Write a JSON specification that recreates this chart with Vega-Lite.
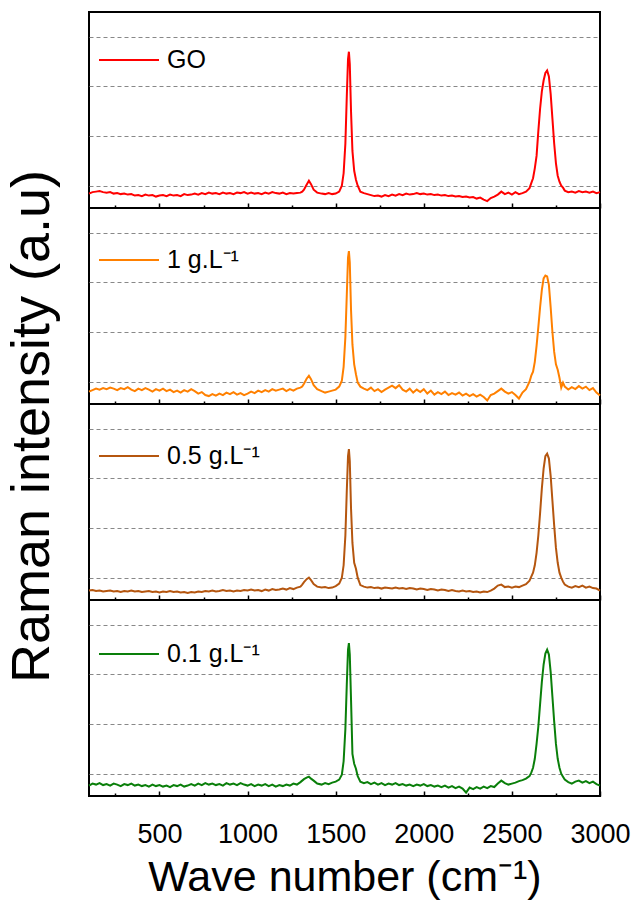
{
"$schema":"https://vega.github.io/schema/vega-lite/v6.json",
"padding":{"left":3,"top":11,"right":5,"bottom":2},
"config":{"font":"Liberation Sans","view":{"stroke":"black","strokeWidth":2},"legend":{"labelFont":"Liberation Sans"}},
"data":{"values":[
{"w":100,"a":-0.16,"b":-0.2,"c":-0.26,"d":-0.24},
{"w":120,"a":-0.13,"b":-0.17,"c":-0.25,"d":-0.2},
{"w":140,"a":-0.12,"b":-0.14,"c":-0.27,"d":-0.22},
{"w":160,"a":-0.11,"b":-0.16,"c":-0.26,"d":-0.19},
{"w":180,"a":-0.13,"b":-0.13,"c":-0.28,"d":-0.23},
{"w":200,"a":-0.14,"b":-0.15,"c":-0.27,"d":-0.21},
{"w":220,"a":-0.13,"b":-0.12,"c":-0.26,"d":-0.24},
{"w":240,"a":-0.16,"b":-0.14,"c":-0.28,"d":-0.2},
{"w":260,"a":-0.15,"b":-0.17,"c":-0.27,"d":-0.22},
{"w":280,"a":-0.17,"b":-0.13,"c":-0.29,"d":-0.25},
{"w":300,"a":-0.16,"b":-0.15,"c":-0.27,"d":-0.21},
{"w":320,"a":-0.18,"b":-0.11,"c":-0.28,"d":-0.23},
{"w":340,"a":-0.17,"b":-0.16,"c":-0.26,"d":-0.2},
{"w":360,"a":-0.2,"b":-0.19,"c":-0.28,"d":-0.24},
{"w":380,"a":-0.19,"b":-0.14,"c":-0.27,"d":-0.22},
{"w":400,"a":-0.21,"b":-0.17,"c":-0.29,"d":-0.25},
{"w":420,"a":-0.18,"b":-0.13,"c":-0.28,"d":-0.23},
{"w":440,"a":-0.2,"b":-0.16,"c":-0.27,"d":-0.26},
{"w":460,"a":-0.19,"b":-0.2,"c":-0.29,"d":-0.22},
{"w":480,"a":-0.22,"b":-0.15,"c":-0.28,"d":-0.25},
{"w":500,"a":-0.2,"b":-0.18,"c":-0.3,"d":-0.23},
{"w":520,"a":-0.19,"b":-0.14,"c":-0.28,"d":-0.26},
{"w":540,"a":-0.21,"b":-0.19,"c":-0.29,"d":-0.24},
{"w":560,"a":-0.18,"b":-0.16,"c":-0.27,"d":-0.27},
{"w":580,"a":-0.2,"b":-0.21,"c":-0.29,"d":-0.23},
{"w":600,"a":-0.19,"b":-0.18,"c":-0.28,"d":-0.25},
{"w":620,"a":-0.21,"b":-0.22,"c":-0.3,"d":-0.22},
{"w":640,"a":-0.17,"b":-0.17,"c":-0.29,"d":-0.26},
{"w":660,"a":-0.19,"b":-0.2,"c":-0.31,"d":-0.24},
{"w":680,"a":-0.18,"b":-0.15,"c":-0.29,"d":-0.21},
{"w":700,"a":-0.16,"b":-0.19,"c":-0.3,"d":-0.24},
{"w":720,"a":-0.18,"b":-0.24,"c":-0.28,"d":-0.2},
{"w":740,"a":-0.15,"b":-0.21,"c":-0.29,"d":-0.23},
{"w":760,"a":-0.17,"b":-0.27,"c":-0.27,"d":-0.19},
{"w":780,"a":-0.14,"b":-0.29,"c":-0.28,"d":-0.22},
{"w":800,"a":-0.16,"b":-0.25,"c":-0.26,"d":-0.2},
{"w":820,"a":-0.15,"b":-0.28,"c":-0.28,"d":-0.23},
{"w":840,"a":-0.17,"b":-0.24,"c":-0.27,"d":-0.21},
{"w":860,"a":-0.14,"b":-0.27,"c":-0.25,"d":-0.24},
{"w":880,"a":-0.16,"b":-0.22,"c":-0.27,"d":-0.19},
{"w":900,"a":-0.15,"b":-0.25,"c":-0.26,"d":-0.22},
{"w":920,"a":-0.17,"b":-0.21,"c":-0.28,"d":-0.2},
{"w":940,"a":-0.14,"b":-0.26,"c":-0.26,"d":-0.23},
{"w":960,"a":-0.15,"b":-0.23,"c":-0.27,"d":-0.19},
{"w":980,"a":-0.13,"b":-0.27,"c":-0.25,"d":-0.22},
{"w":1000,"a":-0.16,"b":-0.24,"c":-0.26,"d":-0.24},
{"w":1020,"a":-0.14,"b":-0.2,"c":-0.24,"d":-0.21},
{"w":1040,"a":-0.16,"b":-0.23,"c":-0.26,"d":-0.25},
{"w":1060,"a":-0.15,"b":-0.18,"c":-0.25,"d":-0.22},
{"w":1080,"a":-0.17,"b":-0.21,"c":-0.27,"d":-0.24},
{"w":1100,"a":-0.14,"b":-0.17,"c":-0.24,"d":-0.21},
{"w":1120,"a":-0.16,"b":-0.2,"c":-0.26,"d":-0.25},
{"w":1140,"a":-0.13,"b":-0.15,"c":-0.23,"d":-0.22},
{"w":1160,"a":-0.15,"b":-0.18,"c":-0.25,"d":-0.26},
{"w":1180,"a":-0.16,"b":-0.16,"c":-0.24,"d":-0.23},
{"w":1200,"a":-0.14,"b":-0.14,"c":-0.22,"d":-0.25},
{"w":1220,"a":-0.17,"b":-0.19,"c":-0.24,"d":-0.22},
{"w":1240,"a":-0.15,"b":-0.15,"c":-0.21,"d":-0.24},
{"w":1260,"a":-0.16,"b":-0.18,"c":-0.23,"d":-0.2},
{"w":1280,"a":-0.15,"b":-0.14,"c":-0.2,"d":-0.22},
{"w":1300,"a":-0.14,"b":-0.12,"c":-0.18,"d":-0.17},
{"w":1310,"a":-0.12,"b":-0.1,"c":-0.14,"d":-0.14},
{"w":1320,"a":-0.08,"b":-0.04,"c":-0.09,"d":-0.11},
{"w":1335,"a":0.02,"b":0.06,"c":-0.03,"d":-0.08},
{"w":1348,"a":0.1,"b":0.12,"c":0.0,"d":-0.06},
{"w":1360,"a":0.03,"b":0.05,"c":-0.05,"d":-0.1},
{"w":1375,"a":-0.08,"b":-0.07,"c":-0.13,"d":-0.14},
{"w":1395,"a":-0.14,"b":-0.15,"c":-0.18,"d":-0.2},
{"w":1420,"a":-0.16,"b":-0.19,"c":-0.2,"d":-0.22},
{"w":1440,"a":-0.17,"b":-0.22,"c":-0.19,"d":-0.19},
{"w":1460,"a":-0.15,"b":-0.2,"c":-0.21,"d":-0.21},
{"w":1480,"a":-0.17,"b":-0.18,"c":-0.2,"d":-0.18},
{"w":1500,"a":-0.16,"b":-0.16,"c":-0.17,"d":-0.16},
{"w":1520,"a":-0.12,"b":-0.1,"c":-0.12,"d":-0.12},
{"w":1535,"a":0.0,"b":0.02,"c":0.0,"d":-0.02},
{"w":1545,"a":0.25,"b":0.3,"c":0.25,"d":0.25},
{"w":1555,"a":0.85,"b":0.9,"c":0.85,"d":0.9},
{"w":1563,"a":1.8,"b":1.75,"c":1.75,"d":1.8},
{"w":1570,"a":2.55,"b":2.5,"c":2.45,"d":2.5},
{"w":1575,"a":2.7,"b":2.63,"c":2.59,"d":2.63},
{"w":1580,"a":2.45,"b":2.4,"c":2.35,"d":2.4},
{"w":1587,"a":1.5,"b":1.45,"c":1.4,"d":1.5},
{"w":1595,"a":0.7,"b":0.75,"c":0.7,"d":0.4},
{"w":1605,"a":0.3,"b":0.35,"c":0.3,"d":0.2},
{"w":1615,"a":0.12,"b":0.15,"c":0.18,"d":0.1},
{"w":1625,"a":0.0,"b":-0.02,"c":0.0,"d":-0.05},
{"w":1640,"a":-0.12,"b":-0.1,"c":-0.15,"d":-0.16},
{"w":1660,"a":-0.15,"b":-0.14,"c":-0.18,"d":-0.19},
{"w":1680,"a":-0.17,"b":-0.17,"c":-0.2,"d":-0.17},
{"w":1700,"a":-0.19,"b":-0.12,"c":-0.19,"d":-0.21},
{"w":1720,"a":-0.21,"b":-0.19,"c":-0.21,"d":-0.18},
{"w":1740,"a":-0.2,"b":-0.15,"c":-0.2,"d":-0.22},
{"w":1760,"a":-0.22,"b":-0.21,"c":-0.22,"d":-0.19},
{"w":1780,"a":-0.19,"b":-0.16,"c":-0.2,"d":-0.23},
{"w":1800,"a":-0.21,"b":-0.12,"c":-0.21,"d":-0.2},
{"w":1820,"a":-0.18,"b":-0.08,"c":-0.22,"d":-0.22},
{"w":1840,"a":-0.2,"b":-0.13,"c":-0.2,"d":-0.19},
{"w":1860,"a":-0.17,"b":-0.07,"c":-0.22,"d":-0.23},
{"w":1880,"a":-0.19,"b":-0.16,"c":-0.21,"d":-0.21},
{"w":1900,"a":-0.16,"b":-0.2,"c":-0.23,"d":-0.24},
{"w":1920,"a":-0.18,"b":-0.14,"c":-0.21,"d":-0.22},
{"w":1940,"a":-0.17,"b":-0.22,"c":-0.22,"d":-0.25},
{"w":1960,"a":-0.15,"b":-0.16,"c":-0.24,"d":-0.22},
{"w":1980,"a":-0.17,"b":-0.21,"c":-0.22,"d":-0.24},
{"w":2000,"a":-0.16,"b":-0.15,"c":-0.23,"d":-0.21},
{"w":2020,"a":-0.18,"b":-0.24,"c":-0.25,"d":-0.25},
{"w":2040,"a":-0.17,"b":-0.18,"c":-0.23,"d":-0.23},
{"w":2060,"a":-0.19,"b":-0.26,"c":-0.24,"d":-0.26},
{"w":2080,"a":-0.18,"b":-0.21,"c":-0.26,"d":-0.24},
{"w":2100,"a":-0.2,"b":-0.25,"c":-0.24,"d":-0.27},
{"w":2120,"a":-0.19,"b":-0.2,"c":-0.25,"d":-0.24},
{"w":2140,"a":-0.21,"b":-0.27,"c":-0.27,"d":-0.28},
{"w":2160,"a":-0.2,"b":-0.23,"c":-0.25,"d":-0.25},
{"w":2180,"a":-0.22,"b":-0.26,"c":-0.27,"d":-0.29},
{"w":2200,"a":-0.21,"b":-0.22,"c":-0.28,"d":-0.26},
{"w":2220,"a":-0.23,"b":-0.28,"c":-0.26,"d":-0.3},
{"w":2240,"a":-0.22,"b":-0.24,"c":-0.28,"d":-0.38},
{"w":2260,"a":-0.24,"b":-0.29,"c":-0.27,"d":-0.28},
{"w":2280,"a":-0.23,"b":-0.25,"c":-0.29,"d":-0.31},
{"w":2300,"a":-0.26,"b":-0.3,"c":-0.28,"d":-0.27},
{"w":2320,"a":-0.24,"b":-0.26,"c":-0.3,"d":-0.3},
{"w":2340,"a":-0.28,"b":-0.31,"c":-0.28,"d":-0.26},
{"w":2360,"a":-0.31,"b":-0.38,"c":-0.29,"d":-0.29},
{"w":2380,"a":-0.25,"b":-0.27,"c":-0.26,"d":-0.25},
{"w":2400,"a":-0.22,"b":-0.24,"c":-0.22,"d":-0.27},
{"w":2420,"a":-0.18,"b":-0.19,"c":-0.16,"d":-0.2},
{"w":2440,"a":-0.12,"b":-0.14,"c":-0.14,"d":-0.14},
{"w":2460,"a":-0.17,"b":-0.2,"c":-0.19,"d":-0.19},
{"w":2480,"a":-0.14,"b":-0.24,"c":-0.18,"d":-0.22},
{"w":2500,"a":-0.18,"b":-0.21,"c":-0.2,"d":-0.2},
{"w":2520,"a":-0.13,"b":-0.27,"c":-0.18,"d":-0.18},
{"w":2540,"a":-0.17,"b":-0.34,"c":-0.19,"d":-0.15},
{"w":2560,"a":-0.15,"b":-0.22,"c":-0.16,"d":-0.13},
{"w":2580,"a":-0.12,"b":-0.15,"c":-0.13,"d":-0.1},
{"w":2600,"a":-0.05,"b":0.0,"c":-0.06,"d":-0.05},
{"w":2610,"a":0.05,"b":0.12,"c":0.02,"d":0.02},
{"w":2620,"a":0.15,"b":0.2,"c":0.1,"d":0.12},
{"w":2630,"a":0.35,"b":0.4,"c":0.25,"d":0.3},
{"w":2640,"a":0.6,"b":0.72,"c":0.5,"d":0.6},
{"w":2650,"a":1.1,"b":1.1,"c":0.85,"d":0.95},
{"w":2660,"a":1.55,"b":1.5,"c":1.3,"d":1.4},
{"w":2670,"a":1.9,"b":1.85,"c":1.8,"d":1.85},
{"w":2680,"a":2.12,"b":2.08,"c":2.2,"d":2.2},
{"w":2690,"a":2.27,"b":2.14,"c":2.45,"d":2.42},
{"w":2700,"a":2.32,"b":2.12,"c":2.5,"d":2.5},
{"w":2710,"a":2.2,"b":1.95,"c":2.4,"d":2.4},
{"w":2720,"a":1.85,"b":1.5,"c":2.05,"d":2.05},
{"w":2730,"a":1.35,"b":1.0,"c":1.55,"d":1.55},
{"w":2740,"a":0.85,"b":0.6,"c":1.05,"d":1.05},
{"w":2750,"a":0.45,"b":0.35,"c":0.6,"d":0.6},
{"w":2760,"a":0.2,"b":0.24,"c":0.3,"d":0.3},
{"w":2770,"a":0.08,"b":0.08,"c":0.1,"d":0.12},
{"w":2780,"a":0.0,"b":-0.12,"c":0.0,"d":0.0},
{"w":2790,"a":-0.04,"b":-0.02,"c":-0.08,"d":-0.06},
{"w":2800,"a":-0.1,"b":-0.1,"c":-0.14,"d":-0.12},
{"w":2820,"a":-0.13,"b":-0.16,"c":-0.18,"d":-0.17},
{"w":2840,"a":-0.12,"b":-0.11,"c":-0.2,"d":-0.2},
{"w":2860,"a":-0.14,"b":-0.15,"c":-0.17,"d":-0.16},
{"w":2880,"a":-0.11,"b":-0.09,"c":-0.19,"d":-0.14},
{"w":2900,"a":-0.13,"b":-0.14,"c":-0.16,"d":-0.18},
{"w":2920,"a":-0.12,"b":-0.1,"c":-0.2,"d":-0.15},
{"w":2940,"a":-0.14,"b":-0.17,"c":-0.18,"d":-0.19},
{"w":2960,"a":-0.12,"b":-0.13,"c":-0.21,"d":-0.16},
{"w":2980,"a":-0.15,"b":-0.22,"c":-0.22,"d":-0.21},
{"w":3000,"a":-0.13,"b":-0.28,"c":-0.26,"d":-0.24}
]},
"spacing":0,
"bounds":"flush",
"resolve":{"scale":{"color":"independent"},"legend":{"color":"independent"}},
"vconcat":[
{"width":511,"height":196,
 "layer":[
  {"mark":{"type":"line","strokeWidth":2},
   "encoding":{
    "x":{"field":"w","type":"quantitative","scale":{"domain":[100,3000],"nice":false,"zero":false},
         "axis":{"orient":"bottom","values":[500,1000,1500,2000,2500,3000],"tickSize":-5,"tickWidth":1.5,"tickColor":"black","labels":false,"domain":false,"grid":false,"title":null}},
    "y":{"field":"a","type":"quantitative","scale":{"domain":[-0.45,3.5],"nice":false,"zero":false},
         "axis":{"grid":true,"gridDash":[4,3],"gridColor":"#888888","gridWidth":1,"values":[0,1,2,3],"ticks":false,"labels":false,"domain":false,"title":null}},
    "color":{"datum":"GO","scale":{"domain":["GO"],"range":["#ff0000"]},
         "legend":{"orient":"none","legendX":9,"legendY":17,"title":null,"symbolType":"stroke","symbolSize":3600,"symbolStrokeWidth":2,"labelFontSize":25,"labelColor":"black","labelOffset":7,"padding":0}}
   }},
  {"mark":{"type":"line","opacity":0},
   "encoding":{
    "x":{"field":"w","type":"quantitative","axis":{"orient":"bottom","values":[250,750,1250,1750,2250,2750],"tickSize":-3,"tickWidth":1.5,"tickColor":"black","labels":false,"domain":false,"grid":false,"title":null}},
    "y":{"field":"a","type":"quantitative"}}}
 ],
 "resolve":{"axis":{"x":"independent"}}
},
{"width":511,"height":196,
 "layer":[
  {"mark":{"type":"line","strokeWidth":2},
   "encoding":{
    "x":{"field":"w","type":"quantitative","scale":{"domain":[100,3000],"nice":false,"zero":false},
         "axis":{"orient":"bottom","values":[500,1000,1500,2000,2500,3000],"tickSize":-5,"tickWidth":1.5,"tickColor":"black","labels":false,"domain":false,"grid":false,"title":null}},
    "y":{"field":"b","type":"quantitative","scale":{"domain":[-0.45,3.5],"nice":false,"zero":false},
         "axis":{"grid":true,"gridDash":[4,3],"gridColor":"#888888","gridWidth":1,"values":[0,1,2,3],"ticks":false,"labels":false,"domain":false,
                 "title":"Raman intensity (a.u)","titleFontSize":54,"titleFontWeight":"normal","titleColor":"black","titleY":218,"titlePadding":30}},
    "color":{"datum":"1 g.L⁻¹","scale":{"domain":["1 g.L⁻¹"],"range":["#ff8000"]},
         "legend":{"orient":"none","legendX":9,"legendY":21,"title":null,"symbolType":"stroke","symbolSize":3600,"symbolStrokeWidth":2,"labelFontSize":25,"labelColor":"black","labelOffset":7,"padding":0}}
   }},
  {"mark":{"type":"line","opacity":0},
   "encoding":{
    "x":{"field":"w","type":"quantitative","axis":{"orient":"bottom","values":[250,750,1250,1750,2250,2750],"tickSize":-3,"tickWidth":1.5,"tickColor":"black","labels":false,"domain":false,"grid":false,"title":null}},
    "y":{"field":"b","type":"quantitative"}}}
 ],
 "resolve":{"axis":{"x":"independent"}}
},
{"width":511,"height":196,
 "layer":[
  {"mark":{"type":"line","strokeWidth":2},
   "encoding":{
    "x":{"field":"w","type":"quantitative","scale":{"domain":[100,3000],"nice":false,"zero":false},
         "axis":{"orient":"bottom","values":[500,1000,1500,2000,2500,3000],"tickSize":-5,"tickWidth":1.5,"tickColor":"black","labels":false,"domain":false,"grid":false,"title":null}},
    "y":{"field":"c","type":"quantitative","scale":{"domain":[-0.45,3.5],"nice":false,"zero":false},
         "axis":{"grid":true,"gridDash":[4,3],"gridColor":"#888888","gridWidth":1,"values":[0,1,2,3],"ticks":false,"labels":false,"domain":false,"title":null}},
    "color":{"datum":"0.5 g.L⁻¹","scale":{"domain":["0.5 g.L⁻¹"],"range":["#b5560f"]},
         "legend":{"orient":"none","legendX":9,"legendY":21,"title":null,"symbolType":"stroke","symbolSize":3600,"symbolStrokeWidth":2,"labelFontSize":25,"labelColor":"black","labelOffset":7,"padding":0}}
   }},
  {"mark":{"type":"line","opacity":0},
   "encoding":{
    "x":{"field":"w","type":"quantitative","axis":{"orient":"bottom","values":[250,750,1250,1750,2250,2750],"tickSize":-3,"tickWidth":1.5,"tickColor":"black","labels":false,"domain":false,"grid":false,"title":null}},
    "y":{"field":"c","type":"quantitative"}}}
 ],
 "resolve":{"axis":{"x":"independent"}}
},
{"width":511,"height":196,
 "layer":[
  {"mark":{"type":"line","strokeWidth":2},
   "encoding":{
    "x":{"field":"w","type":"quantitative","scale":{"domain":[100,3000],"nice":false,"zero":false},
         "axis":{"orient":"bottom","values":[500,1000,1500,2000,2500,3000],"format":"d","tickSize":-5,"tickWidth":1.5,"tickColor":"black","labels":true,"labelFontSize":27,"labelColor":"black","labelFlush":false,"labelOverlap":false,"labelPadding":30,"domain":false,"grid":false,
                 "title":"Wave number (cm⁻¹)","titleFontSize":43,"titleFontWeight":"normal","titleColor":"black","titlePadding":9}},
    "y":{"field":"d","type":"quantitative","scale":{"domain":[-0.45,3.5],"nice":false,"zero":false},
         "axis":{"grid":true,"gridDash":[4,3],"gridColor":"#888888","gridWidth":1,"values":[0,1,2,3],"ticks":false,"labels":false,"domain":false,"title":null}},
    "color":{"datum":"0.1 g.L⁻¹","scale":{"domain":["0.1 g.L⁻¹"],"range":["#0a7f0a"]},
         "legend":{"orient":"none","legendX":9,"legendY":23,"title":null,"symbolType":"stroke","symbolSize":3600,"symbolStrokeWidth":2,"labelFontSize":25,"labelColor":"black","labelOffset":7,"padding":0}}
   }},
  {"mark":{"type":"line","opacity":0},
   "encoding":{
    "x":{"field":"w","type":"quantitative","axis":{"orient":"bottom","values":[250,750,1250,1750,2250,2750],"tickSize":-3,"tickWidth":1.5,"tickColor":"black","labels":false,"domain":false,"grid":false,"title":null}},
    "y":{"field":"d","type":"quantitative"}}}
 ],
 "resolve":{"axis":{"x":"independent"}}
}
]
}
